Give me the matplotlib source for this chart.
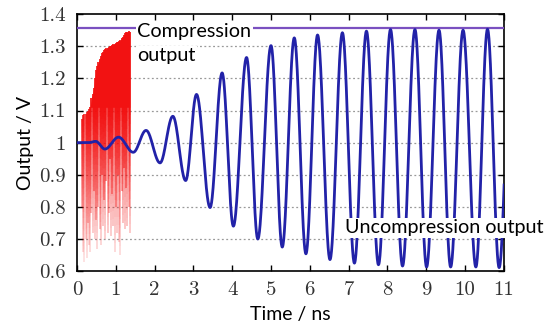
import numpy as np
import matplotlib
matplotlib.use('Agg')
import matplotlib.pyplot as plt
from matplotlib.collections import LineCollection

# uncompression output: extrema (time ns, volts)
blue_t = [0, 0.3, 0.48, 0.72, 1.07, 1.45, 1.78, 2.14, 2.47, 2.8, 3.08, 3.43, 3.74, 4.03,
          4.37, 4.66, 5.0, 5.29, 5.6, 5.9, 6.2, 6.52, 6.84, 7.15, 7.46, 7.77, 8.08,
          8.39, 8.71, 9.01, 9.33, 9.63, 9.95, 10.28, 10.58, 10.88, 11.2]
blue_v = [1.0, 1.0, 1.004, 0.98, 1.017, 0.97, 1.038, 0.937, 1.082, 0.882, 1.15, 0.798,
          1.217, 0.74, 1.265, 0.70, 1.302, 0.675, 1.326, 0.654, 1.335, 0.636, 1.342,
          0.625, 1.347, 0.62, 1.352, 0.616, 1.352, 0.613, 1.35, 0.613, 1.35, 0.613,
          1.353, 0.611, 1.355]

# compression output: streaks, top envelope and lowest reach
red_t = [0.13, 0.16, 0.19, 0.22, 0.25, 0.28, 0.31, 0.34, 0.37, 0.40, 0.43, 0.46, 0.49,
         0.52, 0.55, 0.58, 0.61, 0.64, 0.67, 0.70, 0.73, 0.76, 0.79, 0.82, 0.85, 0.88,
         0.91, 0.94, 0.97, 1.00, 1.03, 1.06, 1.09, 1.12, 1.15, 1.18, 1.21, 1.24, 1.27,
         1.30, 1.33, 1.36]
red_top = [1.075, 1.085, 1.09, 1.09, 1.095, 1.10, 1.105, 1.11, 1.14, 1.15, 1.17, 1.20,
           1.225, 1.24, 1.25, 1.26, 1.27, 1.278, 1.283, 1.288, 1.29, 1.293, 1.296, 1.298,
           1.30, 1.302, 1.304, 1.306, 1.308, 1.31, 1.312, 1.314, 1.316, 1.32, 1.325,
           1.33, 1.335, 1.34, 1.343, 1.345, 1.347, 1.345]
red_low = [0.80, 0.66, 0.63, 0.70, 0.64, 0.75, 0.68, 0.66, 0.78, 0.72, 0.85, 0.70, 0.76,
           0.67, 0.80, 0.73, 0.68, 0.90, 0.74, 0.82, 0.70, 0.88, 0.72, 0.78, 0.95, 0.71,
           0.84, 0.74, 0.66, 0.80, 0.72, 0.90, 0.69, 0.65, 0.85, 0.75, 0.92, 0.73, 0.86,
           0.74, 0.80, 0.72]

limit_v = 1.356  # saturation level (purple line)

# smooth half-cosine path through the blue extrema
tt, vv = [], []
for i in range(len(blue_t) - 1):
    s = np.linspace(0, 1, 40, endpoint=False)
    tt.append(blue_t[i] + (blue_t[i+1] - blue_t[i]) * s)
    vv.append(blue_v[i] + (blue_v[i+1] - blue_v[i]) * (1 - np.cos(np.pi * s)) / 2)
tt = np.concatenate(tt)
vv = np.concatenate(vv)

fig = plt.figure(figsize=(5.5, 3.36), dpi=100)
ax = fig.add_axes([0.14, 0.193, 0.776, 0.765])

# red streaks fading out downwards
segs, cols = [], []
for t, lo, hi in zip(red_t, red_low, red_top):
    ys = np.linspace(lo, hi, 25)
    for a, b in zip(ys[:-1], ys[1:]):
        segs.append([(t, a), (t, b)])
        f = np.clip((0.5 * (a + b) - 0.6) / 0.5, 0, 1)
        cols.append((0.95, 0.05, 0.05, 0.1 + 0.75 * f ** 1.4))
ax.add_collection(LineCollection(segs, colors=cols, linewidths=1.4, zorder=2))
ax.fill_between(red_t, [min(v, 1.11) for v in red_top], red_top,
                color='#f21212', lw=0, zorder=2)

ax.axhline(limit_v, color='#7a50c0', lw=1.6, zorder=3)
ax.plot(tt, vv, color='#2222a8', lw=2.0, zorder=4)

for y in [0.7, 0.8, 0.9, 1.0, 1.1, 1.2, 1.3]:
    ax.axhline(y, color='#999999', lw=0.9, ls=(0, (1.5, 2)), zorder=1)

ax.set_xlim(0, 11)
ax.set_ylim(0.6, 1.4)
ax.set_xticks(range(12))
ax.set_yticks([0.6, 0.7, 0.8, 0.9, 1.0, 1.1, 1.2, 1.3, 1.4])
ax.set_yticklabels(['0.6', '0.7', '0.8', '0.9', '1', '1.1', '1.2', '1.3', '1.4'])
ax.tick_params(direction='in', top=True, right=True, length=4, width=1)
ax.tick_params(axis='x', pad=7)
ax.tick_params(axis='y', pad=8)
for lab in ax.get_xticklabels() + ax.get_yticklabels():
    lab.set_fontfamily('cmr10')
    lab.set_fontsize(15)
    lab.set_color('#333333')
for sp in ax.spines.values():
    sp.set_linewidth(1.2)

ax.set_xlabel('Time / ns', fontfamily='Lato', fontsize=14, labelpad=5)
ax.set_ylabel('Output / V', fontfamily='Lato', fontsize=14, labelpad=4)

box = dict(facecolor='white', edgecolor='none', pad=1.2)
ax.text(1.55, 1.345, 'Compression', fontfamily='Lato', fontsize=14.3,
        ha='left', va='center', zorder=6, bbox=box)
ax.text(1.55, 1.27, 'output', fontfamily='Lato', fontsize=14.3,
        ha='left', va='center', zorder=6, bbox=box)
ax.text(6.9, 0.735, 'Uncompression output', fontfamily='Lato', fontsize=14.2,
        ha='left', va='center', zorder=6, clip_on=False, bbox=box)

plt.savefig('out.png', dpi=100)
